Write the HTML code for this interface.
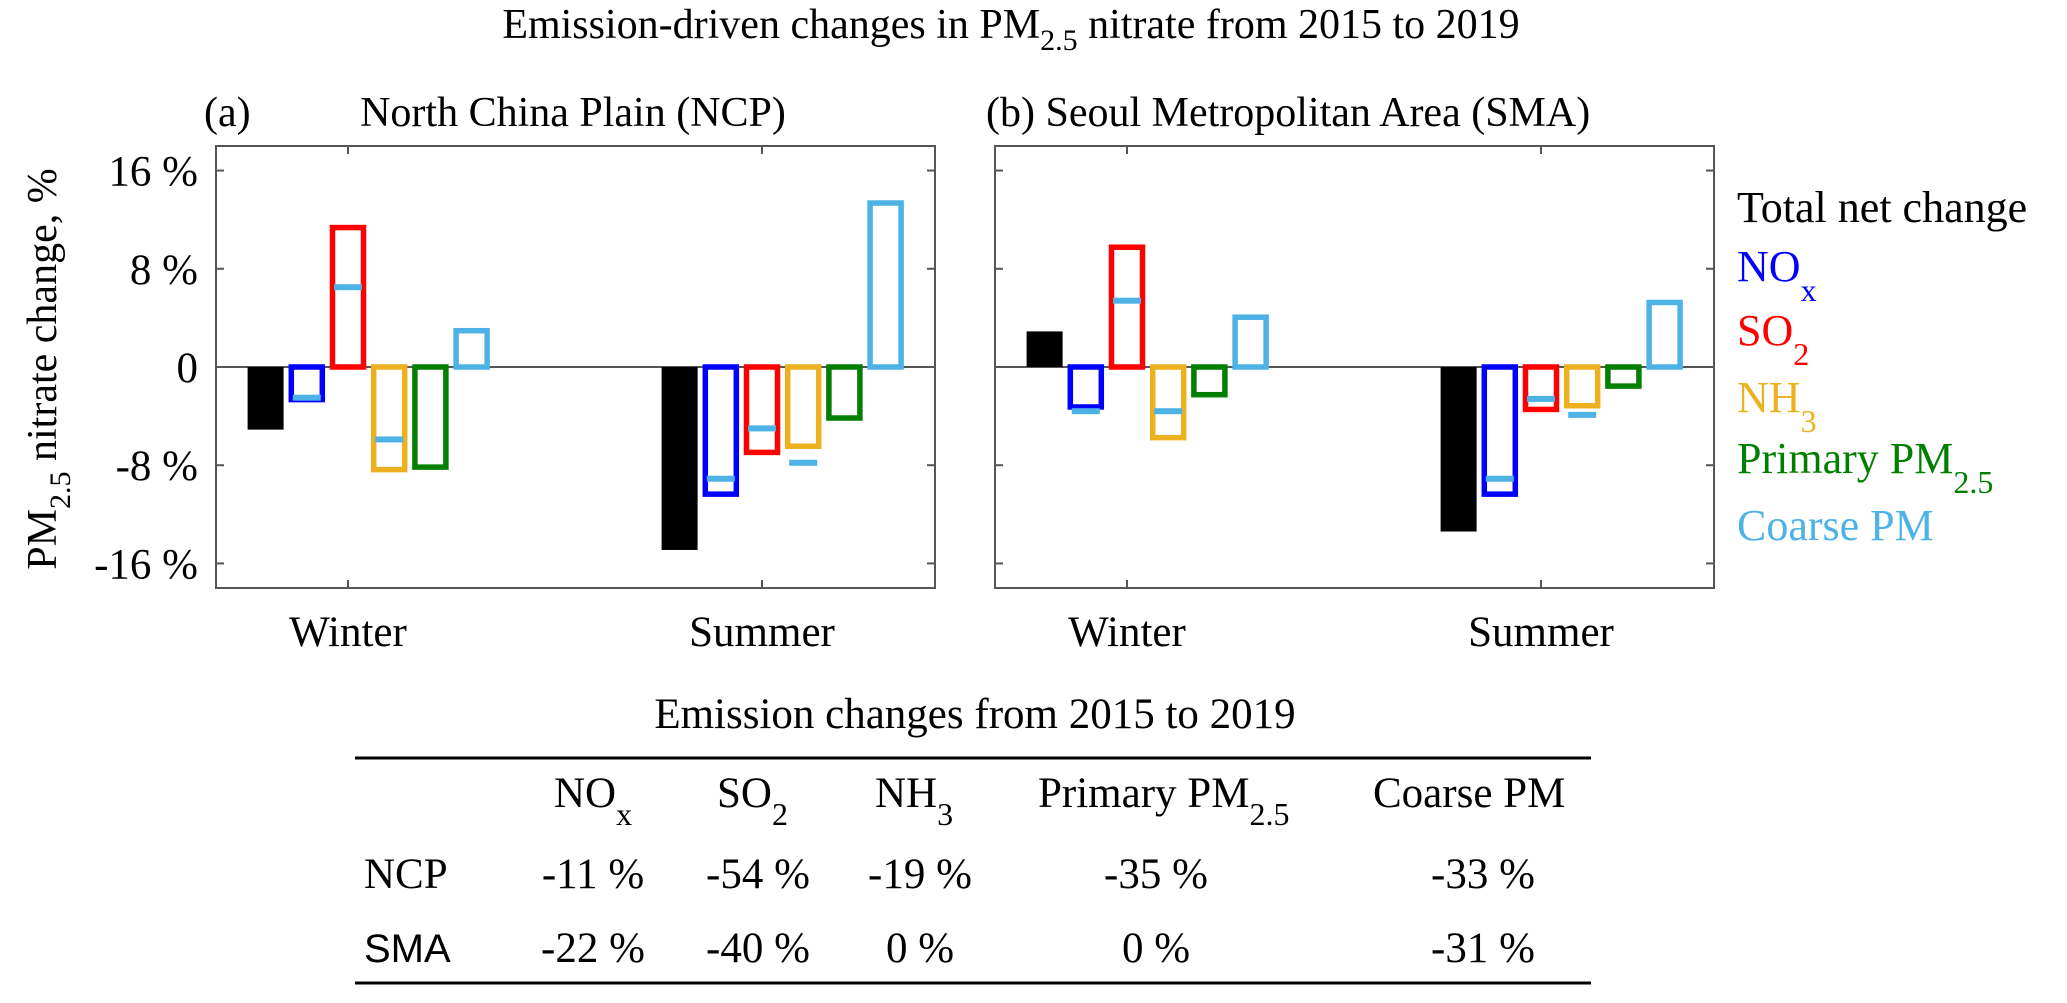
<!DOCTYPE html>
<html><head><meta charset="utf-8"><style>
html,body{margin:0;padding:0;background:#fff;}
svg{display:block;font-family:"Liberation Serif",serif;}
text{font-family:"Liberation Serif",serif;}
</style></head><body>
<svg id="fig" width="2067" height="1003" viewBox="0 0 2067 1003" xmlns="http://www.w3.org/2000/svg">
<text x="1011" y="38" font-size="42" text-anchor="middle">Emission-driven changes in PM<tspan dy="12" font-size="30">2.5</tspan><tspan dy="-12"> nitrate from 2015 to 2019</tspan></text>
<text x="204" y="126" font-size="42">(a)</text>
<text x="573" y="126" font-size="42" text-anchor="middle">North China Plain (NCP)</text>
<text x="986" y="126" font-size="42">(b) Seoul Metropolitan Area (SMA)</text>
<text transform="translate(56,369) rotate(-90)" font-size="42" text-anchor="middle">PM<tspan dy="14" font-size="30">2.5</tspan><tspan dy="-14"> nitrate change, %</tspan></text>
<g id="panels"></g>
<g font-size="44">
<text x="1737" y="222" fill="#000">Total net change</text>
<text x="1737" y="281" fill="#0000ff">NO<tspan dy="20" font-size="32">x</tspan></text>
<text x="1737" y="345" fill="#ff0000">SO<tspan dy="20" font-size="32">2</tspan></text>
<text x="1737" y="412" fill="#edb120">NH<tspan dy="20" font-size="32">3</tspan></text>
<text x="1737" y="473" fill="#007f00">Primary PM<tspan dy="20" font-size="32">2.5</tspan></text>
<text x="1737" y="540" fill="#4db3e6">Coarse PM</text>
</g>
<g font-size="43">
<text x="975" y="728" text-anchor="middle">Emission changes from 2015 to 2019</text>
<line x1="355" y1="758" x2="1591" y2="758" stroke="#000" stroke-width="3"/>
<line x1="355" y1="983" x2="1591" y2="983" stroke="#000" stroke-width="3"/>
<text x="554" y="807">NO<tspan dy="18" font-size="32">x</tspan></text>
<text x="717" y="807">SO<tspan dy="18" font-size="32">2</tspan></text>
<text x="875" y="807">NH<tspan dy="18" font-size="32">3</tspan></text>
<text x="1038" y="807">Primary PM<tspan dy="18" font-size="32">2.5</tspan></text>
<text x="1373" y="807">Coarse PM</text>
<text x="364" y="888">NCP</text>
<text x="364" y="962" style="font-family:'Liberation Sans',sans-serif" font-size="40">SMA</text>
<g text-anchor="middle">
<text x="593" y="888">-11 %</text>
<text x="758" y="888">-54 %</text>
<text x="920" y="888">-19 %</text>
<text x="1156" y="888">-35 %</text>
<text x="1483" y="888">-33 %</text>
<text x="593" y="962">-22 %</text>
<text x="758" y="962">-40 %</text>
<text x="920" y="962">0 %</text>
<text x="1156" y="962">0 %</text>
<text x="1483" y="962">-31 %</text>
</g>
</g>
</svg>
<script>
const seasons = ["Winter", "Summer"];
const seriesNames = ["total", "nox", "so2", "nh3", "primary-pm", "coarse-pm"];
const yTicks = [16, 8, 0, -8, -16];
const yTickLabels = ["16 %", "8 %", "0", "-8 %", "-16 %"];
const ncpWinter = [-5.1, -2.9, 11.6, -8.6, -8.4, 3.2];
const ncpSummer = [-14.9, -10.6, -7.2, -6.7, -4.4, 13.6];
const smaWinter = [2.9, -3.5, 10.0, -6.0, -2.5, 4.3];
const smaSummer = [-13.4, -10.6, -3.7, -3.4, -1.8, 5.5];
const ncpWinterMarks = [null, -2.5, 6.5, -5.9, null, null];
const ncpSummerMarks = [null, -9.1, -5.0, -7.8, null, null];
const smaWinterMarks = [null, -3.6, 5.4, -3.6, null, null];
const smaSummerMarks = [null, -9.1, -2.6, -3.9, null, null];

const colors = ["#000000", "#0000ff", "#ff0000", "#edb120", "#007f00", "#4db3e6"];
const NS = "http://www.w3.org/2000/svg";
const yTop = 146, yBot = 588, yMin = -18, yMax = 18;
function yScale(v) { return yTop + (yMax - v) / (yMax - yMin) * (yBot - yTop); }
const panels = [
  {name: "ncp", left: 216, right: 935, data: [ncpWinter, ncpSummer], marks: [ncpWinterMarks, ncpSummerMarks], ticks: true},
  {name: "sma", left: 995, right: 1714, data: [smaWinter, smaSummer], marks: [smaWinterMarks, smaSummerMarks], ticks: false}
];
function xScale(p, seasonIdx) { return p.left + (seasonIdx === 0 ? 132 : 546); }
const root = document.getElementById("panels");
function mk(tag, attrs) { const e = document.createElementNS(NS, tag); for (const k in attrs) e.setAttribute(k, attrs[k]); return e; }
panels.forEach(p => {
  const g = mk("g", {});
  
  
  root.appendChild(g);
  const frame = mk("rect", {x: p.left, y: yTop, width: p.right - p.left, height: yBot - yTop, fill: "none", stroke: "#555", "stroke-width": 2});
  
  
  g.appendChild(frame);
  yTicks.forEach((t, i) => {
    const y = yScale(t);
    [[p.left, p.left + 8], [p.right - 8, p.right]].forEach(seg => {
      const tk = mk("line", {x1: seg[0], x2: seg[1], y1: y, y2: y, stroke: "#555", "stroke-width": 2});
      
      
      g.appendChild(tk);
    });
    if (p.ticks) {
      const lb = mk("text", {x: 198, y: y + 15, "font-size": 43, "text-anchor": "end"});
      lb.textContent = yTickLabels[i];
      
      
      g.appendChild(lb);
    }
  });
  seasons.forEach((s, si) => {
    const cx = xScale(p, si);
    [[yTop, yTop + 8], [yBot - 8, yBot]].forEach(seg => {
      const tk = mk("line", {x1: cx, x2: cx, y1: seg[0], y2: seg[1], stroke: "#555", "stroke-width": 2});
      
      
      g.appendChild(tk);
    });
    const lb = mk("text", {x: cx, y: 646, "font-size": 43, "text-anchor": "middle"});
    lb.textContent = s;
    
    
    g.appendChild(lb);
  });
  const zero = mk("line", {x1: p.left, x2: p.right, y1: yScale(0), y2: yScale(0), stroke: "#555", "stroke-width": 2});
  
  
  g.appendChild(zero);
  seasons.forEach((s, si) => {
    const vals = p.data[si];
    const mks = p.marks[si];
    vals.forEach((v, i) => {
      const bc = xScale(p, si) + (i - 2) * 41.2;
      const y0 = yScale(0), y1 = yScale(v);
      const top = Math.min(y0, y1), h = Math.abs(y1 - y0);
      let r;
      if (i === 0) {
        r = mk("rect", {x: bc - 18, y: top, width: 36, height: h, fill: "#000"});
      } else {
        r = mk("rect", {x: bc - 15.5, y: top + (v >= 0 ? 3 : 0), width: 31, height: Math.max(h - 3, 1), fill: "none", stroke: colors[i], "stroke-width": 5.5});
      }
      
      
      g.appendChild(r);
    });
    mks.forEach((m, i) => {
      if (m === null) return;
      const bc = xScale(p, si) + (i - 2) * 41.2;
      const ln = mk("rect", {x: bc - 14, y: yScale(m) - 3, width: 28, height: 6, fill: "#4db3e6"});
      
      
      g.appendChild(ln);
    });
  });
});
</script>
</body></html>
